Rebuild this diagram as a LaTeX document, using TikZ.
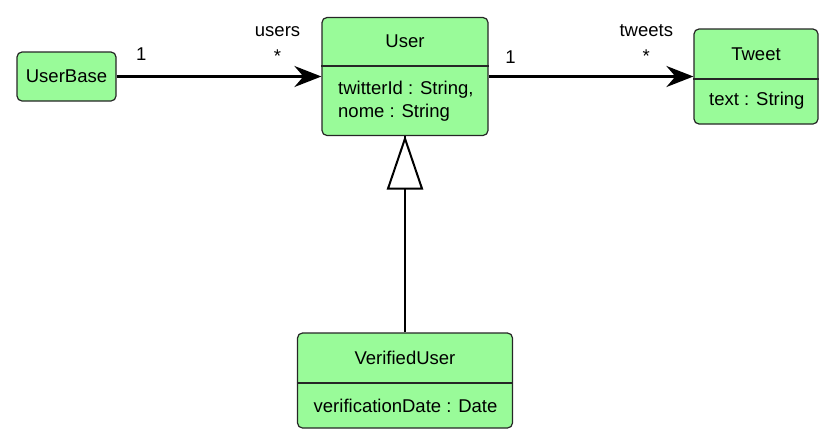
\documentclass[tikz,border=0pt]{standalone}
\usepackage{fontspec}
\setmainfont{Liberation Sans}
\usetikzlibrary{positioning,arrows.meta}
\definecolor{classgreen}{RGB}{153,251,153}
\begin{document}
\begin{tikzpicture}[x=1pt, y=-1pt, line join=round,
class box/.style={draw=black!85, fill=classgreen, rounded corners=5pt, line width=1.2pt, inner sep=0pt, font=\fontsize{18.5}{22}\selectfont},
class name/.style={inner sep=0pt, font=\fontsize{18.5}{22}\selectfont},
attr/.style={inner sep=0pt, anchor=west, align=left, font=\fontsize{18.5}{23}\selectfont},
sep/.style={draw=black!85, line width=1.2pt},
assoc/.style={-{Stealth[length=27pt,width=21pt,inset=9pt]}, line width=2.6pt},
inherit/.style={line width=2pt},
gen tip/.style={draw, fill=white, line width=2pt, line join=miter},
mult/.style={inner sep=0pt, font=\fontsize{18.5}{22}\selectfont}]
\useasboundingbox (0,0) rectangle (835,445);
% classes
\node [class box, minimum width=99pt, minimum height=49pt] (base) at (66.5,76.5) {UserBase};
\node [class box, minimum width=166pt, minimum height=118pt] (user) at (405,76.5) {};
\node [class name] (userName) at (405,41) {User};
\draw [sep] (user.west |- 0,66) -- (user.east |- 0,66);
\node [attr] (userAttr) at (338,101) {twitterId : String,\\nome : String};
\node [class box, minimum width=124pt, minimum height=95pt] (tweet) at (756,76.5) {};
\node [class name] (tweetName) at (756,54) {Tweet};
\draw [sep] (tweet.west |- 0,79) -- (tweet.east |- 0,79);
\node [attr] (tweetAttr) at (709,101) {text : String};
\node [class box, minimum width=215pt, minimum height=95pt] (verified) at (405,380.5) {};
\node [class name] (verifiedName) at (405,358) {VerifiedUser};
\draw [sep] (verified.west |- 0,383) -- (verified.east |- 0,383);
\node [attr] (verifiedAttr) at (313.5,406) {verificationDate : Date};
% associations
\draw [assoc] (base) -- node [mult, pos=0.12, above=15pt] (baseOne) {1} node [mult, pos=0.786, above=13pt] (usersStar) {*} (user);
\node [mult, above=11pt of usersStar] (usersRole) {users};
\draw [assoc] (user) -- node [mult, pos=0.107, above=12pt] (userOne) {1} node [mult, pos=0.77, above=13pt] (tweetsStar) {*} (tweet);
\node [mult, above=11pt of tweetsStar] (tweetsRole) {tweets};
% generalization
\draw [inherit] (verified) -- (user);
\draw [gen tip] (user.south) ++(0,2.5) -- ++(-17,50) -- ++(34,0) -- cycle;
\end{tikzpicture}
\end{document}
